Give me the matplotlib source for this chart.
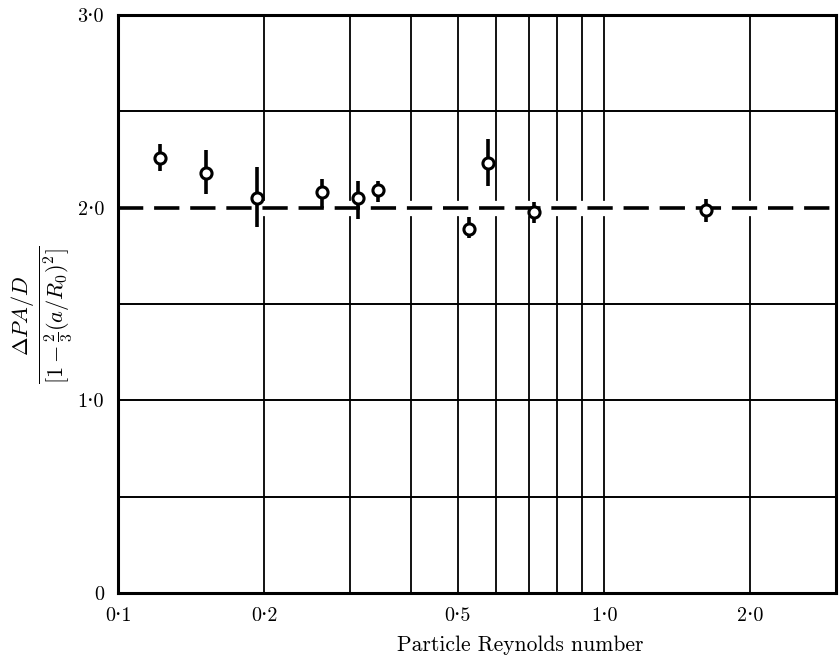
import matplotlib
matplotlib.use("Agg")
import matplotlib.pyplot as plt
from matplotlib.ticker import FixedLocator, NullLocator

plt.rcParams['mathtext.fontset'] = 'cm'
serif = ['cmr10', 'DejaVu Serif']

# particle Reynolds number vs normalised pressure drop
re_p = [0.122, 0.152, 0.193, 0.263, 0.312, 0.342, 0.528, 0.577, 0.716, 1.62]
ratio = [2.26, 2.18, 2.05, 2.08, 2.05, 2.09, 1.89, 2.23, 1.98, 1.99]
err_lo = [0.07, 0.11, 0.15, 0.08, 0.11, 0.06, 0.05, 0.12, 0.06, 0.065]
err_hi = [0.07, 0.12, 0.16, 0.07, 0.09, 0.05, 0.06, 0.125, 0.05, 0.055]

theory = 2.0
x_grid = [0.2, 0.3, 0.4, 0.5, 0.6, 0.7, 0.8, 0.9, 1.0, 2.0]
y_grid = [0.5, 1.0, 1.5, 2.5]
x_ticks = [0.1, 0.2, 0.5, 1.0, 2.0]
x_ticklabels = ['0·1', '0·2', '0·5', '1·0', '2·0']
y_ticks = [0, 1.0, 2.0, 3.0]
y_ticklabels = ['0', '1·0', '2·0', '3·0']

fig = plt.figure(figsize=(8.4, 6.65), dpi=100)
ax = fig.add_axes([118/840, 1 - 593/665, (836 - 118)/840, (593 - 15)/665])

ax.set_xscale('log')
ax.set_xlim(0.1, 3.0)
ax.set_ylim(0, 3.0)

for xv in x_grid:
    ax.axvline(xv, color='black', lw=1.3, zorder=1)
for yv in y_grid:
    ax.axhline(yv, color='black', lw=1.4, zorder=1)

# white band so the grid breaks around the dashed line, as in the print
ax.axhline(theory, color='white', lw=11, zorder=1.5)
ax.axhline(theory, color='black', lw=2.6, ls=(0, (7, 3)), zorder=2)

ax.errorbar(re_p, ratio, yerr=[err_lo, err_hi], fmt='o', ms=8,
            mfc='white', mec='black', mew=2.2, ecolor='black',
            elinewidth=2.6, capsize=0, zorder=3)

ax.xaxis.set_major_locator(FixedLocator(x_ticks))
ax.xaxis.set_minor_locator(NullLocator())
ax.set_xticklabels(x_ticklabels, family=serif, fontsize=14.5)
ax.set_yticks(y_ticks)
ax.set_yticklabels(y_ticklabels, family=serif, fontsize=14.5)
ax.tick_params(length=0, pad=10)

for s in ax.spines.values():
    s.set_linewidth(2.2)

fig.text(520/840, 1 - 645/665, 'Particle Reynolds number', family=serif,
         fontsize=15.5, ha='center', va='center')
fig.text(42/840, 1 - 315/665,
         r'$\frac{\Delta PA/D}{[1-\frac{2}{3}(a/R_0)^2]}$',
         rotation=90, fontsize=23, ha='center', va='center')

fig.savefig('out.png', dpi=100)
